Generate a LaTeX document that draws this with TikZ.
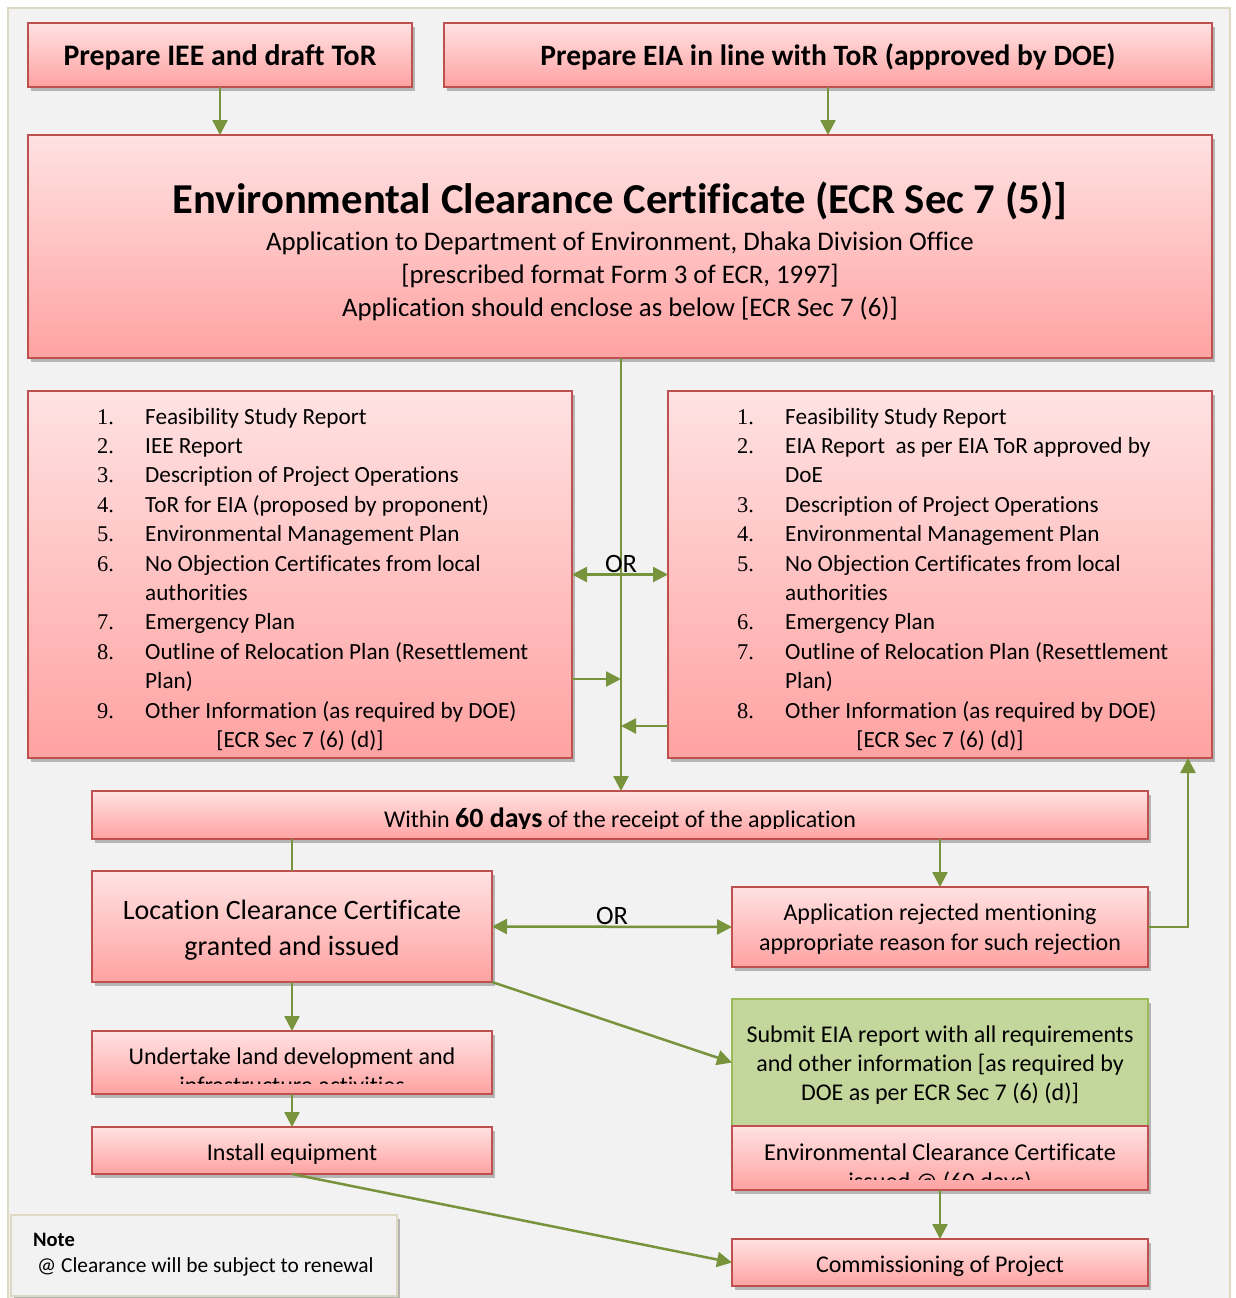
\documentclass[tikz,border=0pt]{standalone}
\usepackage{fontspec}
\setmainfont{Carlito}[Ligatures=NoCommon]
\newfontfamily\numfont{Liberation Serif}
\usetikzlibrary{arrows.meta,shadows,calc}
\definecolor{pinktop}{HTML}{FFE2E2}
\definecolor{pinkbot}{HTML}{FFA2A2}
\definecolor{boxred}{HTML}{C0504D}
\definecolor{arrgreen}{HTML}{77933C}
\definecolor{greenfill}{HTML}{C3D69B}
\definecolor{greenline}{HTML}{9BBB59}
\definecolor{bgfill}{HTML}{F2F2F2}
\definecolor{bgline}{HTML}{DDD9C3}
\newcommand\fsz[1]{\fontsize{#1}{#1}\selectfont}
\begin{document}
\begin{tikzpicture}[x=1pt,y=-1pt,
  shad/.style={drop shadow={shadow xshift=3pt,shadow yshift=-4pt,opacity=0.25,fill=black}},
  box/.style={draw=boxred,line width=2pt,top color=pinktop,bottom color=pinkbot,inner sep=0pt,outer sep=0pt,shad},
  gbox/.style={draw=greenline,line width=2pt,fill=greenfill,inner sep=0pt,outer sep=0pt},
  notebox/.style={draw=bgline,line width=2pt,fill=bgfill,inner sep=0pt,outer sep=0pt,shad},
  tip/.tip={Triangle[length=15pt,width=15pt]},
  arr/.style={draw=arrgreen,line width=2.5pt,-tip},
  dbl/.style={draw=arrgreen,line width=2.5pt,tip-tip},
  plain/.style={draw=arrgreen,line width=2.5pt},
  txt/.style={anchor=base,inner sep=0pt},
  ltxt/.style={anchor=base west,inner sep=0pt}]
\useasboundingbox (0,0) rectangle (1235,1298);
\fill[white] (0,0) rectangle (1235,1298);
\draw[bgline,line width=2pt,fill=bgfill] (8,8) rectangle (1230,1310);

% boxes
\node[box,minimum width=384,minimum height=64] (A) at (220,55) {};
\node[box,minimum width=768,minimum height=64] (B) at (828,55) {};
\node[box,minimum width=1184,minimum height=223] (C) at (620,246.5) {};
\node[box,minimum width=544,minimum height=367] (L) at (300,574.5) {};
\node[box,minimum width=544,minimum height=367] (R) at (940,574.5) {};
\node[box,minimum width=1056,minimum height=48] (D) at (620,815) {};
\node[box,minimum width=400,minimum height=111] (E) at (292,926.5) {};
\node[box,minimum width=416,minimum height=80] (F) at (940,927) {};
\node[box,minimum width=400,minimum height=63] (G) at (292,1062.5) {};
\node[box,minimum width=400,minimum height=47] (H) at (292,1150.5) {};
\node[gbox,shad,minimum width=416,minimum height=127] (I) at (940,1062.5) {};
\node[box,minimum width=416,minimum height=64] (J) at (940,1158) {};
\node[box,minimum width=416,minimum height=47] (K) at (940,1262.5) {};
\node[notebox,minimum width=386,minimum height=81] (N) at (204,1255.5) {};

% texts
\node[txt,font=\bfseries\fsz{29.8}] (At) at (220,66) {Prepare IEE and draft ToR};
\node[txt,font=\bfseries\fsz{29.5}] (Bt) at (828,66) {Prepare EIA in line with ToR (approved by DOE)};
\node[txt,font=\bfseries\fsz{42.6}] (Ct1) at (620,213) {Environmental Clearance Certificate (ECR Sec 7 (5)]};
\node[txt,font=\fsz{26.8}] (Ct2) at (620,250) {Application to Department of Environment, Dhaka Division Office};
\node[txt,font=\fsz{26.8}] (Ct3) at (620,283) {[prescribed format Form 3 of ECR, 1997]};
\node[txt,font=\fsz{26.8}] (Ct4) at (620,316) {Application should enclose as below [ECR Sec 7 (6)]};

\foreach \k/\n/\t in {0/1./Feasibility Study Report,1/2./IEE Report,2/3./Description of Project Operations,3/4./ToR for EIA (proposed by proponent),4/5./Environmental Management Plan,5/6./No Objection Certificates from local,6//authorities,7/7./Emergency Plan,8/8./Outline of Relocation Plan (Resettlement,9//Plan),10/9./Other Information (as required by DOE)}{
  \node[ltxt,font=\numfont\fsz{22.5}] (LN\k) at (97,424+29.4*\k) {\n};
  \node[ltxt,font=\fsz{23.2}] (LT\k) at (145,424+29.4*\k) {\t};
}
\node[txt,font=\fsz{23.2}] (LT11) at (300,747.4) {[ECR Sec 7 (6) (d)]};
\foreach \k/\n/\t in {0/1./Feasibility Study Report,1/2./EIA Report\ \ as per EIA ToR approved by,2//DoE,3/3./Description of Project Operations,4/4./Environmental Management Plan,5/5./No Objection Certificates from local,6//authorities,7/6./Emergency Plan,8/7./Outline of Relocation Plan (Resettlement,9//Plan),10/8./Other Information (as required by DOE)}{
  \node[ltxt,font=\numfont\fsz{22.5}] (RN\k) at (737,424+29.4*\k) {\n};
  \node[ltxt,font=\fsz{23.2}] (RT\k) at (785,424+29.4*\k) {\t};
}
\node[txt,font=\fsz{23.2}] (RT11) at (940,747.4) {[ECR Sec 7 (6) (d)]};

\begin{scope}
\clip (D.north west) rectangle ($(D.south east)+(0,-11)$);
\node[txt,font=\fsz{24}] (Dt) at (620,827.5) {Within {\bfseries\fsz{28}60 days} of the receipt of the application};
\end{scope}

\node[txt,font=\fsz{28}] (Et1) at (292,919) {Location Clearance Certificate};
\node[txt,font=\fsz{28}] (Et2) at (292,955) {granted and issued};
\node[txt,font=\fsz{24}] (Ft1) at (940,920) {Application rejected mentioning};
\node[txt,font=\fsz{24}] (Ft2) at (940,950) {appropriate reason for such rejection};

\begin{scope}
\clip (G.north west) rectangle ($(G.south east)+(0,-11)$);
\node[txt,font=\fsz{24}] (Gt1) at (292,1064) {Undertake land development and};
\node[txt,font=\fsz{24}] (Gt2) at (292,1093) {infrastructure activities};
\end{scope}
\node[txt,font=\fsz{24}] (Ht) at (292,1160) {Install equipment};

\node[txt,font=\fsz{24}] (It1) at (940,1042.5) {Submit EIA report with all requirements};
\node[txt,font=\fsz{24}] (It2) at (940,1071.5) {and other information [as required by};
\node[txt,font=\fsz{24}] (It3) at (940,1100.3) {DOE as per ECR Sec 7 (6) (d)]};

\begin{scope}
\clip (J.north west) rectangle ($(J.south east)+(0,-11)$);
\node[txt,font=\fsz{24.2}] (Jt1) at (940,1160.8) {Environmental Clearance Certificate};
\node[txt,font=\fsz{24.2}] (Jt2) at (940,1189.8) {issued @ (60 days)};
\end{scope}
\node[txt,font=\fsz{24}] (Kt) at (940,1272.5) {Commissioning of Project};

\node[ltxt,font=\bfseries\fsz{20.5}] (Nt1) at (33,1246.5) {Note};
\node[ltxt,font=\fsz{21.4}] (Nt2) at (37,1272.5) {@ Clearance will be subject to renewal};

% connectors
\coordinate (m1) at (621,679);
\coordinate (m2) at (621,726);
\coordinate (rt) at (1188,758);
\draw[arr] (A.south) -- (A.south |- C.north);
\draw[arr] (B.south) -- (B.south |- C.north);
\draw[arr] (C.south -| m1) -- (D.north -| m1);
\draw[dbl] (L.east) -- (R.west);
\node[txt,font=\fsz{26.5}] (or1) at (621,572.5) {OR};
\draw[arr] (L.east |- m1) -- (m1);
\draw[arr] (R.west |- m2) -- (m2);
\draw[plain] (E.north |- D.south) -- (E.north);
\draw[arr] (F.north |- D.south) -- (F.north);
\draw[dbl] (E.east) -- (F.west);
\node[txt,font=\fsz{26.5}] (or2) at (612,924.5) {OR};
\draw[arr] (F.east) -| (rt);
\draw[arr] (E.south) -- (G.north);
\draw[arr] (E.south east) -- (I.west);
\draw[arr] (G.south) -- (H.north);
\draw[arr] (J.south) -- (K.north);
\draw[arr] (H.south) -- (K.west);
\end{tikzpicture}
\end{document}
